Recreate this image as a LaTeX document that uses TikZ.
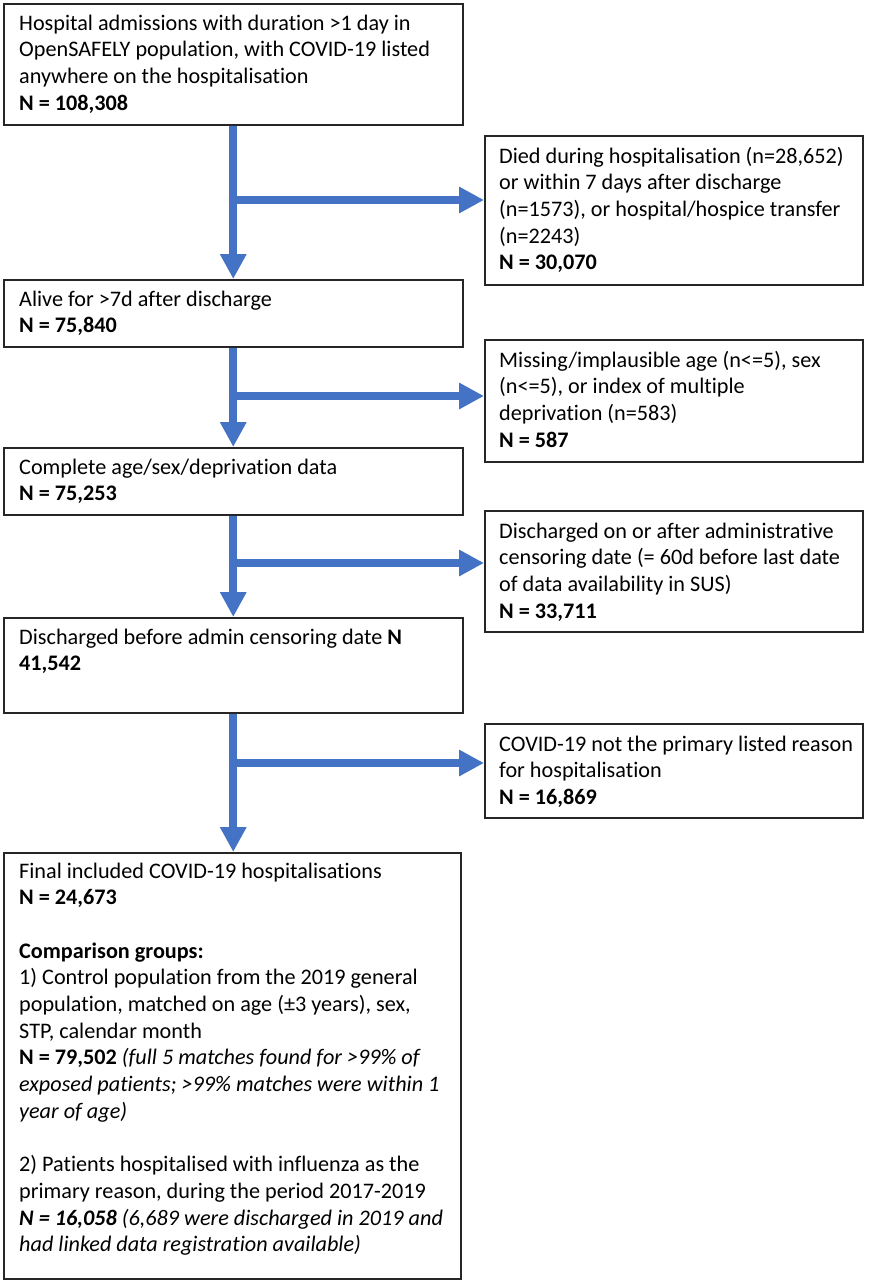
\documentclass[tikz,border=0pt]{standalone}
\usepackage{fontspec}
\setmainfont[Ligatures=NoCommon]{Carlito}
\usetikzlibrary{arrows.meta}
\definecolor{flowblue}{HTML}{4472C4}
\newcommand{\boxlines}[1]{\begin{minipage}[t]{440pt}\raggedright #1\end{minipage}}

\begin{document}
\begin{tikzpicture}[x=1pt, y=-1pt,
        font=\fontsize{22.2}{26.7}\selectfont,
        box/.style={draw=black!85, line width=1.5pt, inner sep=0pt, anchor=north west},
        txt/.style={anchor=base west, inner sep=0pt},
        flow/.style={draw=flowblue, line width=8pt, -{Triangle[length=25pt, width=25pt]}}]
    \useasboundingbox (0,0) rectangle (884,1280);

    % main column
    \node[box, minimum width=459pt, minimum height=121pt] (admit) at (3,3) {};
    \node[box, minimum width=459pt, minimum height=67pt] (alive) at (3,279) {};
    \node[box, minimum width=459pt, minimum height=67pt] (complete) at (3,447) {};
    \node[box, minimum width=459pt, minimum height=95pt] (before) at (3,617) {};
    \node[box, minimum width=457pt, minimum height=426pt] (final) at (3,852) {};

    % excluded
    \node[box, minimum width=378pt, minimum height=149pt] (died) at (484,135) {};
    \node[box, minimum width=378pt, minimum height=122pt] (missing) at (484,339) {};
    \node[box, minimum width=378pt, minimum height=121pt] (censor) at (484,510) {};
    \node[box, minimum width=378pt, minimum height=94pt] (notprim) at (484,723) {};

    \node[txt] (admit-t) at ([shift={(16,27)}]admit.north west)
        {\boxlines{Hospital admissions with duration >1 day in\\
         OpenSAFELY population, with COVID-19 listed\\
         anywhere on the hospitalisation\\
         \textbf{N = 108,308}}};
    \node[txt] (alive-t) at ([shift={(16,27)}]alive.north west)
        {\boxlines{Alive for >7d after discharge\\ \textbf{N = 75,840}}};
    \node[txt] (complete-t) at ([shift={(16,27)}]complete.north west)
        {\boxlines{Complete age/sex/deprivation data\\ \textbf{N = 75,253}}};
    \node[txt] (before-t) at ([shift={(16,27)}]before.north west)
        {\boxlines{Discharged before admin censoring date \textbf{N}\\ \textbf{41,542}}};
    \node[txt] (final-t) at ([shift={(16,26)}]final.north west)
        {\boxlines{Final included COVID-19 hospitalisations\\
         \textbf{N = 24,673}\\[26.7pt]
         \textbf{Comparison groups:}\\
         1) Control population from the 2019 general\\
         population, matched on age (±3 years), sex,\\
         STP, calendar month\\
         \textbf{N = 79,502} \textit{(full 5 matches found for >99\% of}\\
         \textit{exposed patients; >99\% matches were within 1}\\
         \textit{year of age)}\\[26.7pt]
         2) Patients hospitalised with influenza as the\\
         primary reason, during the period 2017-2019\\
         \textbf{\textit{N = 16,058}} \textit{(6,689 were discharged in 2019 and}\\
         \textit{had linked data registration available)}}};

    \node[txt] (died-t) at ([shift={(15,28)}]died.north west)
        {\boxlines{Died during hospitalisation (n=28,652)\\
         or within 7 days after discharge\\
         (n=1573), or hospital/hospice transfer\\
         (n=2243)\\
         \textbf{N = 30,070}}};
    \node[txt] (missing-t) at ([shift={(15,28)}]missing.north west)
        {\boxlines{Missing/implausible age (n<=5), sex\\
         (n<=5), or index of multiple\\
         deprivation (n=583)\\
         \textbf{N = 587}}};
    \node[txt] (censor-t) at ([shift={(15,28)}]censor.north west)
        {\boxlines{Discharged on or after administrative\\
         censoring date (= 60d before last date\\
         of data availability in SUS)\\
         \textbf{N = 33,711}}};
    \node[txt] (notprim-t) at ([shift={(15,28)}]notprim.north west)
        {\boxlines{COVID-19 not the primary listed reason\\
         for hospitalisation\\
         \textbf{N = 16,869}}};

    % arrows
    \coordinate (s1) at (232.5,200);
    \coordinate (s2) at (232.5,396);
    \coordinate (s3) at (232.5,563);
    \coordinate (s4) at (232.5,763);
    \draw[flow] (admit.south) -- (alive.north);
    \draw[flow] (alive.south) -- (complete.north);
    \draw[flow] (complete.south) -- (before.north);
    \draw[flow] (before.south) -- (final.north -| before.south);
    \draw[flow] (s1) -- (s1 -| died.west);
    \draw[flow] (s2) -- (s2 -| missing.west);
    \draw[flow] (s3) -- (s3 -| censor.west);
    \draw[flow] (s4) -- (s4 -| notprim.west);
\end{tikzpicture}
\end{document}
